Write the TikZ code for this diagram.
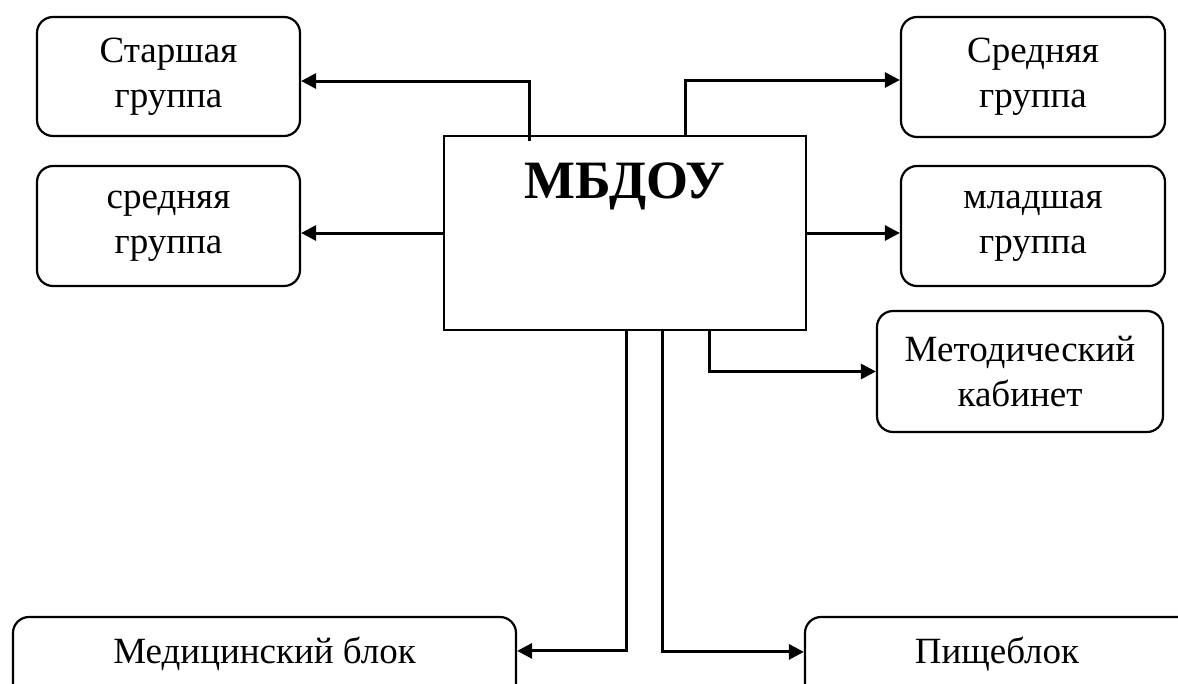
\documentclass[tikz,border=0pt]{standalone}
\usepackage{fontspec}
\setmainfont{Liberation Serif}
\usetikzlibrary{arrows.meta,positioning}
\begin{document}
\begin{tikzpicture}[x=1pt,y=-1pt,
  grp/.style={draw,line width=2.2pt,rounded corners=16pt,align=center,
    font=\fontsize{37}{45}\selectfont,inner sep=0pt},
  mainbox/.style={draw,line width=1.8pt,inner sep=0pt},
  txt/.style={font=\fontsize{37}{45}\selectfont,inner sep=0pt},
  arr/.style={line width=3pt,-{Triangle[length=15pt,width=15pt]}},
]
\useasboundingbox (0,0) rectangle (1178,683);
\clip (0,0) rectangle (1178,683);
\node[grp,minimum width=263pt,minimum height=119pt] (s1) at (168.5,76.5) {Старшая\\группа};
\node[grp,minimum width=264pt,minimum height=120pt] (s2) at (1033,77) {Средняя\\группа};
\node[grp,minimum width=263pt,minimum height=120pt] (s3) at (168.5,226) {средняя\\группа};
\node[grp,minimum width=264pt,minimum height=120pt] (s4) at (1033,226) {младшая\\группа};
\node[mainbox,minimum width=362pt,minimum height=194pt] (m) at (625,233) {};
\node[font=\fontsize{54}{60}\selectfont\bfseries,inner sep=0pt] (mt) at (625,186) {МБДОУ};
\node[grp,minimum width=286pt,minimum height=121pt] (met) at (1020,371.5) {Методический\\кабинет};
\node[grp,minimum width=503pt,minimum height=110pt] (med) at (264.5,672) {};
\node[txt] (medt) at (264.5,654) {Медицинский блок};
\node[grp,minimum width=390pt,minimum height=110pt] (pis) at (1000,672) {};
\node[txt] (pist) at (997,654) {Пищеблок};
\draw[arr] ([xshift=-96pt,yshift=-6pt]m.north) |- ([yshift=-4.5pt]s1.east);
\draw[arr] ([xshift=60pt]m.north) |- ([yshift=-3pt]s2.west);
\draw[arr] (m.west) -- (m.west -| s3.east);
\draw[arr] (m.east) -- (m.east -| s4.west);
\draw[arr] ([xshift=84pt]m.south) |- (met.west);
\draw[arr] ([xshift=1pt]m.south) |- ([yshift=-35pt]med.north east);
\draw[arr] ([xshift=37pt]m.south) |- ([yshift=-36pt]pis.north west);
\end{tikzpicture}
\end{document}
